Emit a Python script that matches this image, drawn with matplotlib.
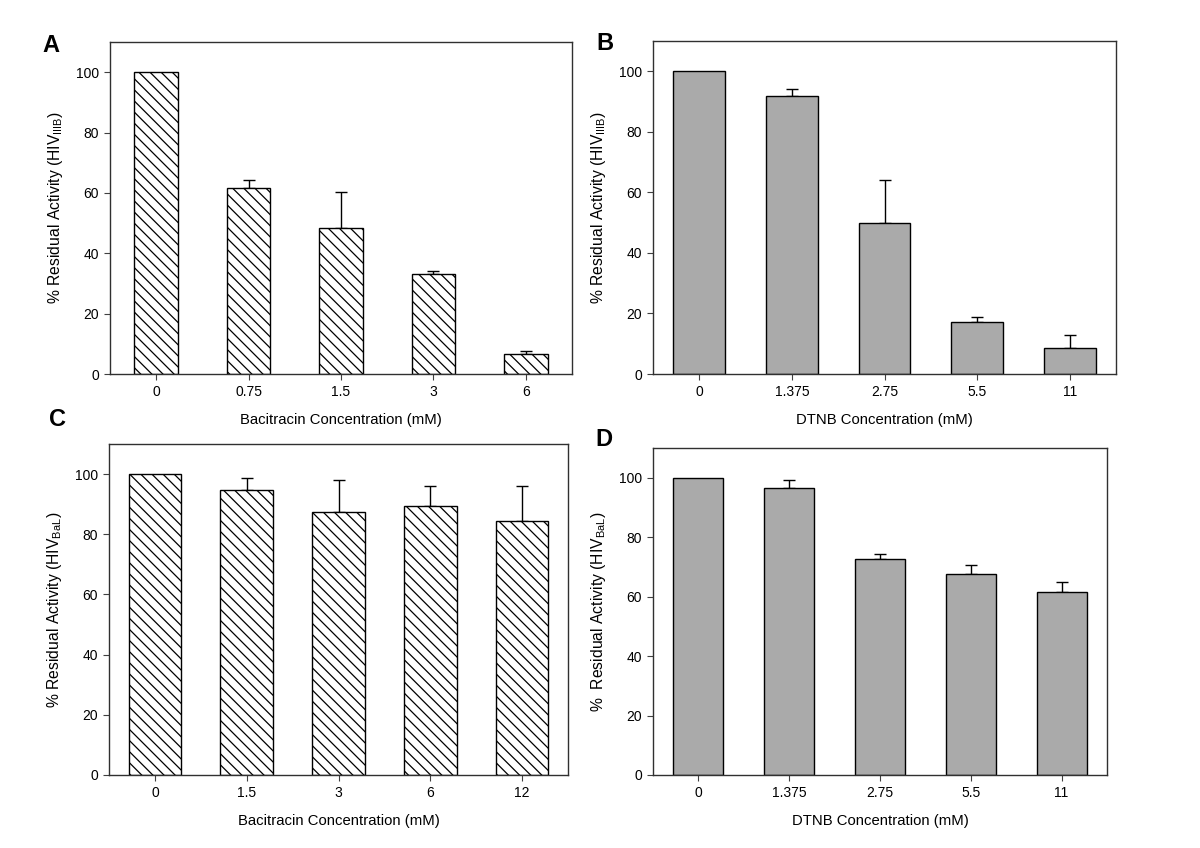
import matplotlib
matplotlib.use("Agg")
import matplotlib.pyplot as plt
import numpy as np

plt.rcParams["font.family"] = ["Liberation Sans", "DejaVu Sans"]
plt.rcParams["mathtext.fontset"] = "custom"
plt.rcParams["mathtext.rm"] = "Liberation Sans"
plt.rcParams["hatch.linewidth"] = 0.9

# panel A: bacitracin vs HIV IIIB
bac_iiib_conc = ["0", "0.75", "1.5", "3", "6"]
bac_iiib_val = [100, 61.5, 48.4, 33.0, 6.6]
bac_iiib_err = [0, 2.8, 11.8, 1.0, 1.1]

# panel B: DTNB vs HIV IIIB
dtnb_iiib_conc = ["0", "1.375", "2.75", "5.5", "11"]
dtnb_iiib_val = [100, 91.9, 49.9, 17.3, 8.7]
dtnb_iiib_err = [0, 2.4, 14.1, 1.5, 4.3]

# panel C: bacitracin vs HIV BaL
bac_bal_conc = ["0", "1.5", "3", "6", "12"]
bac_bal_val = [100, 94.7, 87.4, 89.5, 84.4]
bac_bal_err = [0, 4.1, 10.8, 6.7, 11.8]

# panel D: DTNB vs HIV BaL
dtnb_bal_conc = ["0", "1.375", "2.75", "5.5", "11"]
dtnb_bal_val = [100, 96.6, 72.6, 67.7, 61.6]
dtnb_bal_err = [0, 2.8, 1.7, 2.8, 3.4]

W, H = 1200, 848
fig = plt.figure(figsize=(W / 100, H / 100), dpi=100)


def _rect(l, t, r, b):
    return [l / W, 1 - b / H, (r - l) / W, (b - t) / H]


def panel(rect, letter, letter_xy, conc, vals, errs, xlabel, ylabel, hatched, width):
    ax = fig.add_axes(_rect(*rect))
    x = np.arange(len(vals))
    if hatched:
        ax.bar(x, vals, width=width, color="white", edgecolor="black",
               hatch="\\\\\\", linewidth=1.0, zorder=2)
    else:
        ax.bar(x, vals, width=width, color="#aaaaaa", edgecolor="black",
               linewidth=1.0, zorder=2)
    e = np.array(errs, dtype=float)
    keep = e > 0
    ax.errorbar(x[keep], np.array(vals)[keep], yerr=[np.zeros(keep.sum()), e[keep]],
                fmt="none", ecolor="black", elinewidth=1.0, capsize=4, capthick=1.0, zorder=1)
    ax.set_xlim(-0.5, len(vals) - 0.5)
    ax.set_ylim(0, 110)
    ax.set_yticks(np.arange(0, 101, 20))
    ax.set_xticks(x)
    ax.set_xticklabels(conc)
    ax.tick_params(axis="x", direction="out", length=4, labelsize=10, pad=4, color="#404040")
    ax.tick_params(axis="y", direction="out", length=4, labelsize=10, pad=4, color="#404040")
    for s in ax.spines.values():
        s.set_color("#303030")
        s.set_linewidth(1.0)
    ax.set_xlabel(xlabel, fontsize=10.7, labelpad=10)
    ax.set_ylabel(ylabel, fontsize=11.3, labelpad=8)
    fig.text(letter_xy[0] / W, 1 - letter_xy[1] / H, letter, fontsize=17,
             fontweight="bold", ha="center", va="center")
    return ax


ylab_iiib = r"% Residual Activity (HIV$_{\mathregular{IIIB}}$)"
ylab_bal = r"% Residual Activity (HIV$_{\mathregular{BaL}}$)"

panel((110, 42, 572, 374), "A", (51, 46), bac_iiib_conc, bac_iiib_val, bac_iiib_err,
      "Bacitracin Concentration (mM)", ylab_iiib, True, 0.47)
panel((653, 41, 1116, 374), "B", (605, 44), dtnb_iiib_conc, dtnb_iiib_val, dtnb_iiib_err,
      "DTNB Concentration (mM)", ylab_iiib, False, 0.56)
panel((109, 444, 568, 775), "C", (57, 420), bac_bal_conc, bac_bal_val, bac_bal_err,
      "Bacitracin Concentration (mM)", ylab_bal, True, 0.575)
panel((653, 448, 1107, 775), "D", (604, 440), dtnb_bal_conc, dtnb_bal_val, dtnb_bal_err,
      "DTNB Concentration (mM)", r"%  Residual Activity (HIV$_{\mathregular{BaL}}$)", False, 0.55)

fig.savefig("out.png", dpi=100)
